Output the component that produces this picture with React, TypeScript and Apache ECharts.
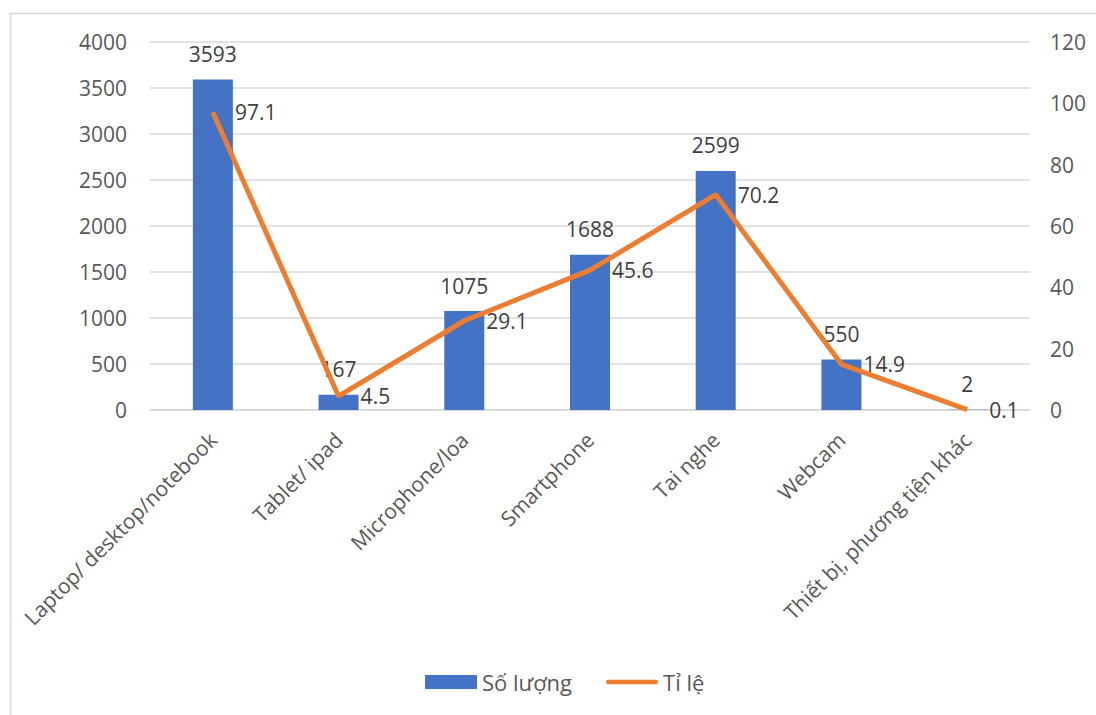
import React, { useEffect, useRef } from "react";
import * as echarts from "echarts";

const categories = [
  "Laptop/ desktop/notebook",
  "Tablet/ ipad",
  "Microphone/loa",
  "Smartphone",
  "Tai nghe",
  "Webcam",
  "Thiết bị, phương tiện khác",
];
const soLuong = [3593, 167, 1075, 1688, 2599, 550, 2];
const tiLe = [97.1, 4.5, 29.1, 45.6, 70.2, 14.9, 0.1];

export default function App() {
  const ref = useRef<HTMLDivElement>(null);
  useEffect(() => {
    if (!ref.current) return;
    const chart = echarts.init(ref.current, undefined, { renderer: "svg" });
    const font = "'Open Sans', sans-serif";
    chart.setOption({
      animation: false,
      backgroundColor: "#ffffff",
      textStyle: { fontFamily: font },
      graphic: [
        {
          type: "rect",
          shape: { x: 10.5, y: 13.5, width: 1200, height: 800 },
          style: { fill: "none", stroke: "#d9d9d9", lineWidth: 1.5 },
          silent: true,
        },
      ],
      grid: { left: 150, right: 66, top: 42, bottom: 305, containLabel: false },
      legend: {
        bottom: 17,
        left: 420,
        itemWidth: 52,
        itemHeight: 14,
        itemGap: 34,
        textStyle: { fontSize: 22, color: "#595959", fontFamily: font },
        data: [
          { name: "Số lượng", icon: "rect" },
          {
            name: "Tỉ lệ",
            icon: "path://M2.5,0 H53.5 A2.5,2.5 0 0 1 53.5,5 H2.5 A2.5,2.5 0 0 1 2.5,0 Z",
            itemStyle: { color: "#ED7D31" },
          },
        ],
      },
      xAxis: {
        type: "category",
        data: categories,
        axisLine: { show: true, lineStyle: { color: "#d9d9d9", width: 1.5 } },
        axisTick: { show: false },
        axisLabel: {
          rotate: 45,
          interval: 0,
          margin: 26,
          fontSize: 21,
          color: "#595959",
          fontFamily: font,
        },
      },
      yAxis: [
        {
          type: "value",
          min: 0,
          max: 4000,
          interval: 500,
          axisLine: { show: false },
          axisTick: { show: false },
          splitLine: { lineStyle: { color: "#d9d9d9", width: 1.5 } },
          axisLabel: {
            fontSize: 21,
            color: "#595959",
            margin: 23,
            fontFamily: font,
            formatter: (v: number) => String(v),
          },
        },
        {
          type: "value",
          min: 0,
          max: 120,
          interval: 20,
          axisLine: { show: false },
          axisTick: { show: false },
          splitLine: { show: false },
          axisLabel: {
            fontSize: 21,
            color: "#595959",
            margin: 20,
            fontFamily: font,
            formatter: (v: number) => String(v),
          },
        },
      ],
      series: [
        {
          name: "Số lượng",
          type: "bar",
          data: soLuong,
          barWidth: 40,
          itemStyle: { color: "#4472C4" },
          label: {
            show: true,
            position: "top",
            distance: 15,
            fontSize: 21,
            color: "#404040",
            fontFamily: font,
          },
        },
        {
          name: "Tỉ lệ",
          type: "line",
          yAxisIndex: 1,
          data: tiLe,
          symbol: "circle",
          symbolSize: 0.1,
          showSymbol: true,
          lineStyle: { color: "#ED7D31", width: 5 },
          itemStyle: { color: "#ED7D31" },
          label: {
            show: true,
            position: "right",
            distance: 22,
            fontSize: 21,
            color: "#404040",
            fontFamily: font,
          },
        },
      ],
    });
    return () => chart.dispose();
  }, []);
  return (
    <div
      ref={ref}
      style={{ position: "fixed", left: 0, top: 0, width: 1096, height: 715 }}
    />
  );
}
